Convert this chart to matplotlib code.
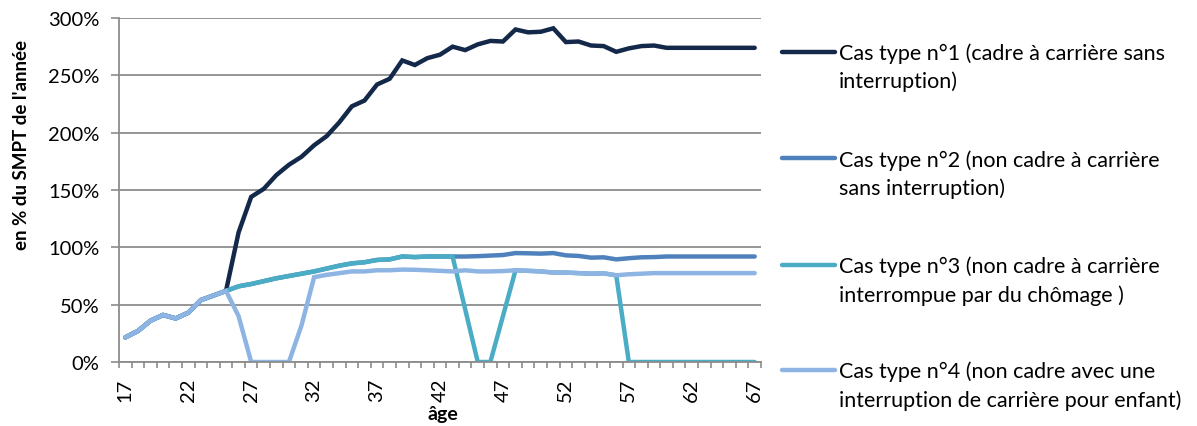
import matplotlib
matplotlib.use("Agg")
import matplotlib.pyplot as plt
from matplotlib.lines import Line2D
from matplotlib.ticker import FixedLocator, PercentFormatter

plt.rcParams['font.family'] = ['Lato', 'DejaVu Sans']

ages = list(range(17, 68))

cas1 = [21.5, 27, 36, 41, 38, 43, 54, 58, 62,
        113, 144, 151, 163, 172, 179, 189, 197, 209, 223, 228, 242, 247, 263, 259,
        265, 268, 275, 272, 277, 280, 279.5, 290, 287.5, 288, 291, 279, 279.5, 276,
        275.5, 270.5, 273.5, 275.5, 276,
        274, 274, 274, 274, 274, 274, 274, 274]

cas2 = [21.5, 27, 36, 41, 38, 43, 54, 58, 62,
        66, 68, 70.5, 73, 75, 77, 79, 81.5, 84, 86, 87, 89, 89.5, 92, 91.5, 92, 92, 92,
        92, 92.3, 92.8, 93.3, 95, 94.8, 94.5, 95, 93, 92.5, 91, 91.3, 89.5, 90.5, 91.3, 91.5,
        92, 92, 92, 92, 92, 92, 92, 92]

cas3 = [21.5, 27, 36, 41, 38, 43, 54, 58, 62,
        66, 68, 70.5, 73, 75, 77, 79, 81.5, 84, 86, 87, 89, 89.5, 92, 91.5, 92, 92, 92,
        46, 0, 0, 40, 80, 79.5, 79, 78, 78, 77.5, 77, 77.3, 75.6,
        0, 0, 0, 0, 0, 0, 0, 0, 0, 0, 0]

cas4 = [21.5, 27, 36, 41, 38, 43, 54, 58, 62,
        40, 0, 0, 0, 0, 32, 74, 76, 77.5, 79, 79, 80, 80, 80.6, 80.4, 80, 79.5, 79,
        80, 79, 79, 79.3, 80, 79.5, 79, 78, 78, 77.5, 77, 77.3, 75.6, 76.5, 77, 77.5,
        77.5, 77.5, 77.5, 77.5, 77.5, 77.5, 77.5, 77.5]

labels = [
    ["Cas type n°1 (cadre à carrière sans", "interruption)"],
    ["Cas type n°2 (non cadre à carrière", "sans interruption)"],
    ["Cas type n°3 (non cadre à carrière", "interrompue par du chômage )"],
    ["Cas type n°4 (non cadre avec une", "interruption de carrière pour enfant)"],
]
colors = ["#14294A", "#4F81BD", "#4BACC6", "#8EB4E3"]
series = [cas1, cas2, cas3, cas4]

W, H = 1197, 427
fig = plt.figure(figsize=(W / 100, H / 100), dpi=100)
ax = fig.add_axes([119 / W, 1 - 363 / H, (761 - 119) / W, (363 - 19) / H])

for s, c in zip(series, colors):
    ax.plot(ages, s, color=c, lw=3.2, solid_joinstyle='miter', solid_capstyle='round')

grid_c = "#8C8C8C"
ax.set_xlim(16.5, 67.5)
ax.set_ylim(0, 300)
ax.set_yticks(range(0, 301, 50))
ax.yaxis.set_major_formatter(PercentFormatter(decimals=0))
ax.grid(axis='y', color=grid_c, lw=1.3)
ax.set_axisbelow(True)

ax.set_xticks(list(range(17, 68, 5)))
ax.set_xticklabels([str(a) for a in range(17, 68, 5)], rotation=90)
ax.xaxis.set_minor_locator(FixedLocator([a - 0.5 for a in ages] + [67.5]))
ax.tick_params(axis='x', which='major', length=0, pad=11, labelsize=14.5)
ax.tick_params(axis='x', which='minor', length=4, width=1.2, color=grid_c, direction='out')
ax.tick_params(axis='y', which='major', length=6, width=1.2, color=grid_c, labelsize=14.5, pad=8)

for side in ['top', 'right']:
    ax.spines[side].set_visible(False)
for side in ['left', 'bottom']:
    ax.spines[side].set_color(grid_c)
    ax.spines[side].set_linewidth(1.3)

fig.text(443 / W, 1 - 415 / H, "âge", ha='center', va='center', fontsize=14, fontweight='bold')
fig.text(22 / W, 1 - 145 / H, "en % du SMPT de l'année", ha='center', va='center',
         rotation=90, fontsize=13.5, fontweight='bold')

handle_y = [53, 159, 265.5, 371]
baselines = [(60, 88.5), (166.7, 195), (273.3, 301.7), (378.3, 406.7)]
for c, hy, (b1, b2), lab in zip(colors, handle_y, baselines, labels):
    fig.add_artist(Line2D([782 / W, 835 / W], [1 - hy / H, 1 - hy / H], color=c, lw=3.2,
                          solid_capstyle='round', transform=fig.transFigure))
    fig.text(839 / W, 1 - b1 / H, lab[0], ha='left', va='baseline', fontsize=15.5)
    fig.text(839 / W, 1 - b2 / H, lab[1], ha='left', va='baseline', fontsize=15.5)

fig.savefig("out.png", dpi=100)
